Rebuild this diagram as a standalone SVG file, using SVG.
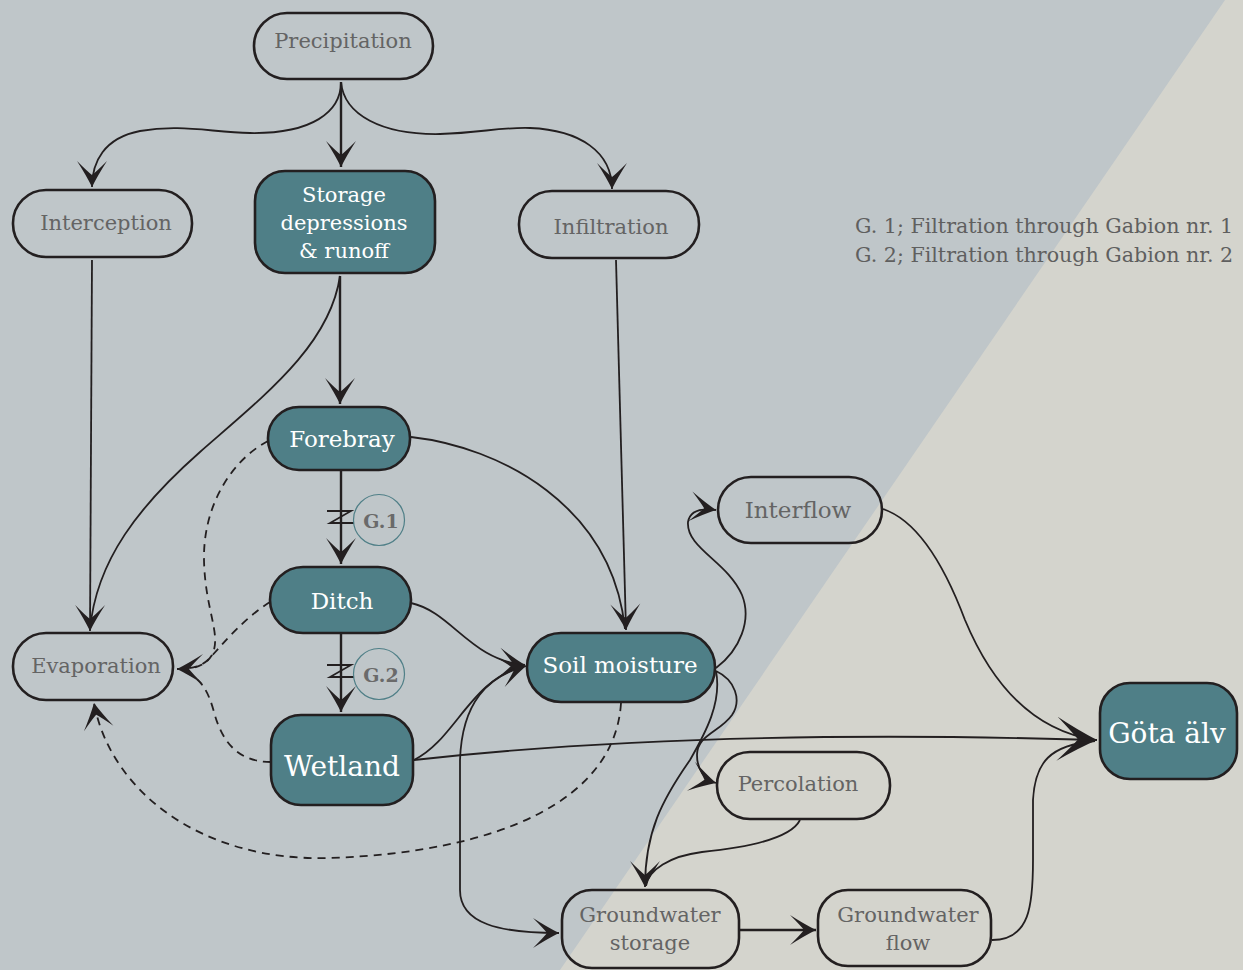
<svg xmlns="http://www.w3.org/2000/svg" width="1243" height="970" viewBox="0 0 1243 970">
<style>
.bgL{fill:#bfc6c9}
.bgR{fill:#d4d4cd}
.n{fill:none;stroke:#231f20;stroke-width:2.6}
.t{fill:#4f7f87;stroke:#231f20;stroke-width:2.6}
.lg{font-family:"DejaVu Serif","Liberation Serif",serif;fill:#646464;text-anchor:middle}
.lw{font-family:"DejaVu Serif","Liberation Serif",serif;fill:#ffffff;text-anchor:middle}
.c{fill:none;stroke:#231f20;stroke-width:1.8}
.cb{fill:none;stroke:#231f20;stroke-width:2.4}
.d{fill:none;stroke:#231f20;stroke-width:1.8;stroke-dasharray:8 6}
.leg{font-family:"DejaVu Serif","Liberation Serif",serif;fill:#5f5f5f;font-size:20.6px}
.gc{fill:none;stroke:#4f7f87;stroke-width:1.2}
.gt{font-family:"DejaVu Serif","Liberation Serif",serif;fill:#6a6a6a;font-size:19px;font-weight:bold;text-anchor:middle}
</style>
<defs>
<marker id="ah" markerUnits="userSpaceOnUse" markerWidth="30" markerHeight="30" viewBox="-27 -15 29 30" refX="0" refY="0" orient="auto" overflow="visible">
<path d="M0 0 Q-12 -6 -26 -15 Q-15 -4 -12 0 Q-15 4 -26 15 Q-12 6 0 0Z" fill="#231f20"/>
</marker>
<marker id="ahL" markerUnits="userSpaceOnUse" markerWidth="46" markerHeight="46" viewBox="-42 -23 44 46" refX="0" refY="0" orient="auto" overflow="visible">
<path d="M0 0 Q-19 -9 -40 -22 Q-24 -6 -19 0 Q-24 6 -40 22 Q-19 9 0 0Z" fill="#231f20"/>
</marker>
<marker id="ahS" markerUnits="userSpaceOnUse" markerWidth="30" markerHeight="30" viewBox="-27 -15 29 30" refX="0" refY="0" orient="auto-start-reverse" overflow="visible">
<path d="M0 0 Q-12 -6 -26 -15 Q-15 -4 -12 0 Q-15 4 -26 15 Q-12 6 0 0Z" fill="#231f20"/>
</marker>
</defs>
<rect class="bgL" x="0" y="0" width="1243" height="970"/>
<polygon class="bgR" points="1225,0 1243,0 1243,970 560,970"/>

<g id="connectors">
<path class="c" d="M341 82 C341 112 312 134 250 133 C210 132 180 124 140 131 C104 138 92 162 92 187" marker-end="url(#ah)"/>
<path class="cb" d="M341 82 L341 167" marker-end="url(#ah)"/>
<path class="c" d="M341 82 C344 115 382 135 440 134 C480 133 500 127 530 128 C580 130 612 152 612 189" marker-end="url(#ah)"/>
<path class="c" d="M92 260 L90 631" marker-end="url(#ah)"/>
<path class="c" d="M340 276 C330 345 265 395 200 452 C140 505 96 560 90 630"/>
<path class="cb" d="M340 276 L340 404" marker-end="url(#ah)"/>
<path class="cb" d="M341 471 L341 564" marker-end="url(#ah)"/>
<path class="cb" d="M341 634 L341 712" marker-end="url(#ah)"/>
<path class="c" d="M327 511 L351 511 L330 523 L354 523"/>
<path class="c" d="M327 665 L351 665 L330 677 L354 677"/>
<path class="c" d="M411 437 C500 447 612 505 625 629"/>
<path class="c" d="M616 260 L626 630" marker-end="url(#ah)"/>
<path class="c" d="M411 603 C452 612 470 660 525 665" marker-end="url(#ah)"/>
<path class="c" d="M414 760 C455 740 470 680 524 666"/>
<path class="c" d="M526 666 C488 676 462 702 460 760 L460 890 C460 924 500 933 559 933" marker-start="url(#ahS)" marker-end="url(#ahS)"/>
<path class="c" d="M414 760 Q700 728 1097 740" marker-end="url(#ahL)"/>
<path class="c" d="M716 668 C740 650 752 620 742 595 C728 562 686 548 688 522 C690 510 702 508 716 510" marker-end="url(#ah)"/>
<path class="c" d="M883 509 C922 522 948 575 965 620 C990 680 1030 730 1095 740"/>
<path class="c" d="M992 940 C1030 940 1033 905 1033 860 L1033 800 C1035 762 1050 745 1095 741"/>
<path class="c" d="M716 671 C722 702 706 732 690 760 C662 800 645 832 645 887" marker-end="url(#ah)"/>
<path class="c" d="M716 671 C735 680 742 700 732 715 C720 732 697 735 697 755 C697 770 705 780 716 783" marker-end="url(#ah)"/>
<path class="c" d="M800 820 C790 840 742 848 702 852 C670 856 648 870 646 886"/>
<path class="cb" d="M740 930 L816 930" marker-end="url(#ah)"/>
<path class="d" d="M268 441 C232 460 203 505 204 560 C205 610 222 635 212 655 C206 665 195 669 180 669"/>
<path class="d" d="M270 602 C244 618 222 645 208 660 C200 667 190 669 177 669" marker-end="url(#ah)"/>
<path class="d" d="M271 762 C238 762 222 742 214 712 C208 690 200 676 180 670"/>
<path class="d" d="M621 703 C615 800 500 852 330 858 C200 862 110 790 94 703" marker-end="url(#ah)"/>
</g>

<g id="precipitation"><rect class="n" x="254" y="13" width="179" height="66" rx="33"/><text class="lg" x="343" y="48" font-size="21">Precipitation</text></g>
<g id="interception"><rect class="n" x="13" y="190" width="179" height="67" rx="33"/><text class="lg" x="106" y="230" font-size="21">Interception</text></g>
<g id="storage"><rect class="t" x="255" y="171" width="180" height="102" rx="30"/><text class="lw" x="344" y="202" font-size="21">Storage</text><text class="lw" x="344" y="230" font-size="21">depressions</text><text class="lw" x="344" y="258" font-size="21">&amp; runoff</text></g>
<g id="infiltration"><rect class="n" x="519" y="191" width="180" height="67" rx="33"/><text class="lg" x="611" y="234" font-size="21">Infiltration</text></g>
<g id="forebray"><rect class="t" x="268" y="407" width="142" height="63" rx="31"/><text class="lw" x="342" y="447" font-size="23">Forebray</text></g>
<g id="g1"><circle class="gc" cx="379" cy="520" r="25.5"/><text class="gt" x="381" y="528">G.1</text></g>
<g id="ditch"><rect class="t" x="270" y="567" width="141" height="66" rx="33"/><text class="lw" x="342" y="609" font-size="23">Ditch</text></g>
<g id="g2"><circle class="gc" cx="379" cy="674" r="25.5"/><text class="gt" x="381" y="682">G.2</text></g>
<g id="wetland"><rect class="t" x="271" y="715" width="142" height="90" rx="30"/><text class="lw" x="342" y="776" font-size="28">Wetland</text></g>
<g id="evaporation"><rect class="n" x="13" y="633" width="160" height="67" rx="33"/><text class="lg" x="96" y="673" font-size="21">Evaporation</text></g>
<g id="soil-moisture"><rect class="t" x="527" y="633" width="188" height="69" rx="34"/><text class="lw" x="620" y="673" font-size="23">Soil moisture</text></g>
<g id="interflow"><rect class="n" x="718" y="477" width="164" height="66" rx="33"/><text class="lg" x="798" y="518" font-size="23">Interflow</text></g>
<g id="percolation"><rect class="n" x="717" y="752" width="173" height="67" rx="33"/><text class="lg" x="798" y="791" font-size="21">Percolation</text></g>
<g id="gw-storage"><rect class="n" x="562" y="890" width="177" height="78" rx="30"/><text class="lg" x="650" y="922" font-size="21">Groundwater</text><text class="lg" x="650" y="950" font-size="21">storage</text></g>
<g id="gw-flow"><rect class="n" x="818" y="890" width="173" height="76" rx="30"/><text class="lg" x="908" y="922" font-size="21">Groundwater</text><text class="lg" x="908" y="950" font-size="21">flow</text></g>
<g id="gota-alv"><rect class="t" x="1100" y="683" width="137" height="96" rx="30"/><text class="lw" x="1167" y="743" font-size="28">Göta älv</text></g>
<g id="legend"><text class="leg" x="855" y="233">G. 1; Filtration through Gabion nr. 1</text><text class="leg" x="855" y="262">G. 2; Filtration through Gabion nr. 2</text></g>
</svg>
